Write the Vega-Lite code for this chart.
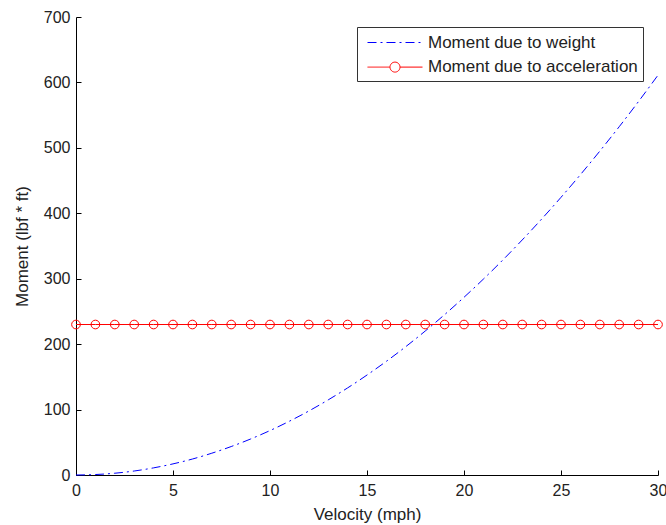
{
  "$schema": "https://vega.github.io/schema/vega-lite/v6.json",
  "width": 582,
  "height": 458,
  "autosize": {"type": "none"},
  "padding": {"left": 76, "top": 17, "right": 8, "bottom": 50},
  "background": "white",
  "config": {
    "view": {"stroke": null},
    "font": "Liberation Sans",
    "axis": {
      "grid": false,
      "domainColor": "black",
      "domainWidth": 1,
      "tickColor": "black",
      "tickSize": -5,
      "labelFont": "Liberation Sans",
      "labelFontSize": 16,
      "labelColor": "#222222",
      "titleFont": "Liberation Sans",
      "titleFontSize": 17,
      "titleFontWeight": "normal",
      "titleColor": "#222222",
      "labelFlush": false
    }
  },
  "data": {
    "values": [
      {"v": 0, "m": 0, "series": "Moment due to weight"},
      {"v": 1, "m": 0.7, "series": "Moment due to weight"},
      {"v": 2, "m": 2.7, "series": "Moment due to weight"},
      {"v": 3, "m": 6.1, "series": "Moment due to weight"},
      {"v": 4, "m": 10.9, "series": "Moment due to weight"},
      {"v": 5, "m": 17.0, "series": "Moment due to weight"},
      {"v": 6, "m": 24.4, "series": "Moment due to weight"},
      {"v": 7, "m": 33.3, "series": "Moment due to weight"},
      {"v": 8, "m": 43.5, "series": "Moment due to weight"},
      {"v": 9, "m": 55.0, "series": "Moment due to weight"},
      {"v": 10, "m": 67.9, "series": "Moment due to weight"},
      {"v": 11, "m": 82.2, "series": "Moment due to weight"},
      {"v": 12, "m": 97.8, "series": "Moment due to weight"},
      {"v": 13, "m": 114.8, "series": "Moment due to weight"},
      {"v": 14, "m": 133.1, "series": "Moment due to weight"},
      {"v": 15, "m": 152.8, "series": "Moment due to weight"},
      {"v": 16, "m": 173.8, "series": "Moment due to weight"},
      {"v": 17, "m": 196.2, "series": "Moment due to weight"},
      {"v": 18, "m": 220.0, "series": "Moment due to weight"},
      {"v": 19, "m": 245.1, "series": "Moment due to weight"},
      {"v": 20, "m": 271.6, "series": "Moment due to weight"},
      {"v": 21, "m": 299.4, "series": "Moment due to weight"},
      {"v": 22, "m": 328.6, "series": "Moment due to weight"},
      {"v": 23, "m": 359.2, "series": "Moment due to weight"},
      {"v": 24, "m": 391.1, "series": "Moment due to weight"},
      {"v": 25, "m": 424.4, "series": "Moment due to weight"},
      {"v": 26, "m": 459.0, "series": "Moment due to weight"},
      {"v": 27, "m": 495.0, "series": "Moment due to weight"},
      {"v": 28, "m": 532.3, "series": "Moment due to weight"},
      {"v": 29, "m": 571.0, "series": "Moment due to weight"},
      {"v": 30, "m": 611.1, "series": "Moment due to weight"},
      {"v": 0, "m": 230, "series": "Moment due to acceleration"},
      {"v": 1, "m": 230, "series": "Moment due to acceleration"},
      {"v": 2, "m": 230, "series": "Moment due to acceleration"},
      {"v": 3, "m": 230, "series": "Moment due to acceleration"},
      {"v": 4, "m": 230, "series": "Moment due to acceleration"},
      {"v": 5, "m": 230, "series": "Moment due to acceleration"},
      {"v": 6, "m": 230, "series": "Moment due to acceleration"},
      {"v": 7, "m": 230, "series": "Moment due to acceleration"},
      {"v": 8, "m": 230, "series": "Moment due to acceleration"},
      {"v": 9, "m": 230, "series": "Moment due to acceleration"},
      {"v": 10, "m": 230, "series": "Moment due to acceleration"},
      {"v": 11, "m": 230, "series": "Moment due to acceleration"},
      {"v": 12, "m": 230, "series": "Moment due to acceleration"},
      {"v": 13, "m": 230, "series": "Moment due to acceleration"},
      {"v": 14, "m": 230, "series": "Moment due to acceleration"},
      {"v": 15, "m": 230, "series": "Moment due to acceleration"},
      {"v": 16, "m": 230, "series": "Moment due to acceleration"},
      {"v": 17, "m": 230, "series": "Moment due to acceleration"},
      {"v": 18, "m": 230, "series": "Moment due to acceleration"},
      {"v": 19, "m": 230, "series": "Moment due to acceleration"},
      {"v": 20, "m": 230, "series": "Moment due to acceleration"},
      {"v": 21, "m": 230, "series": "Moment due to acceleration"},
      {"v": 22, "m": 230, "series": "Moment due to acceleration"},
      {"v": 23, "m": 230, "series": "Moment due to acceleration"},
      {"v": 24, "m": 230, "series": "Moment due to acceleration"},
      {"v": 25, "m": 230, "series": "Moment due to acceleration"},
      {"v": 26, "m": 230, "series": "Moment due to acceleration"},
      {"v": 27, "m": 230, "series": "Moment due to acceleration"},
      {"v": 28, "m": 230, "series": "Moment due to acceleration"},
      {"v": 29, "m": 230, "series": "Moment due to acceleration"},
      {"v": 30, "m": 230, "series": "Moment due to acceleration"}
    ]
  },
  "encoding": {
    "x": {
      "field": "v",
      "type": "quantitative",
      "title": "Velocity (mph)",
      "scale": {"domain": [0, 30], "nice": false, "zero": false},
      "axis": {"values": [0, 5, 10, 15, 20, 25, 30], "labelPadding": 12, "titlePadding": 8}
    },
    "y": {
      "field": "m",
      "type": "quantitative",
      "title": "Moment (lbf * ft)",
      "scale": {"domain": [0, 700], "nice": false},
      "axis": {"values": [0, 100, 200, 300, 400, 500, 600, 700], "labelPadding": 11, "titlePadding": 12}
    }
  },
  "layer": [
    {
      "mark": {"type": "line", "strokeWidth": 1, "interpolate": "monotone"},
      "encoding": {
        "color": {
          "field": "series",
          "type": "nominal",
          "scale": {"domain": ["Moment due to weight", "Moment due to acceleration"], "range": ["#0000ff", "#ff0000"]},
          "legend": {
            "title": null,
            "orient": "none",
            "legendX": 281,
            "legendY": 10,
            "direction": "vertical",
            "fillColor": "white",
            "strokeColor": "#333333",
            "padding": 5,
            "rowPadding": 5.6,
            "symbolType": "stroke",
            "symbolSize": 400,
            "symbolStrokeWidth": 1,
            "symbolOffset": 22.5,
            "labelFont": "Liberation Sans",
            "labelFontSize": 17,
            "labelColor": "#222222",
            "labelOffset": 22.5,
            "labelLimit": 400,
            "encode": {
              "symbols": {
                "update": {
                  "shape": {"signal": "datum.value == 'Moment due to acceleration' ? 'M-2.75,0H-0.5A0.5,0.5 0 1,1 0.5,0A0.5,0.5 0 1,1 -0.5,0M0.5,0H2.75' : 'M-2.75,0H2.75'"},
                  "strokeDash": {"signal": "datum.value == 'Moment due to acceleration' ? [1,0] : [9,4,2,4]"},
                  "fill": {"value": "transparent"}
                }
              }
            }
          }
        },
        "strokeDash": {
          "field": "series",
          "type": "nominal",
          "scale": {"domain": ["Moment due to weight", "Moment due to acceleration"], "range": [[9, 4, 2, 4], [1, 0]]}
        }
      }
    },
    {
      "transform": [{"filter": "datum.series == 'Moment due to acceleration'"}],
      "mark": {"type": "point", "shape": "circle", "filled": false, "color": "#ff0000", "size": 75, "strokeWidth": 1, "opacity": 1}
    }
  ]
}
